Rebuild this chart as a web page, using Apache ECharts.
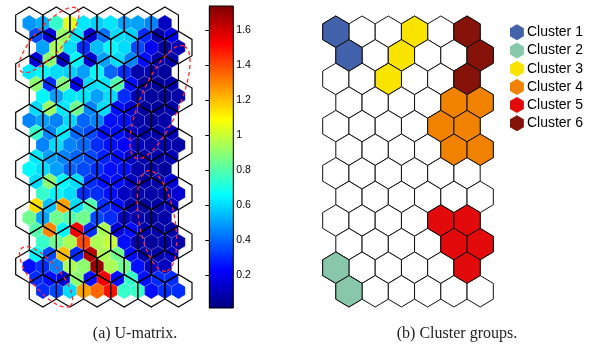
<!DOCTYPE html>
<html>
<head>
<meta charset="utf-8">
<script src="https://cdn.jsdelivr.net/npm/echarts@6/dist/echarts.min.js"></script>
<style>
  html, body { margin: 0; padding: 0; background: #fff; }
  #chart { width: 590px; height: 346px; }
</style>
</head>
<body>
<div id="chart"></div>
<script>
// U-matrix values, 23 rows x 11 cols (top row first)
const uRows = [
  [0.48, 0.52, 0.75, 1.05, 0.62, 0.58, 0.62, 0.50, 0.50, 0.45, 0.12],
  [0.35, 0.15, 0.92, 0.62, 0.15, 0.42, 0.60, 0.58, 0.30, 0.08, 0.18],
  [0.50, 0.95, 0.60, 0.30, 0.55, 0.65, 0.60, 0.35, 0.20, 0.06, 0.10],
  [0.15, 0.90, 0.12, 0.65, 0.15, 0.50, 0.60, 0.45, 0.25, 0.08, 0.08],
  [0.62, 0.65, 0.60, 0.58, 0.50, 0.65, 0.40, 0.30, 0.08, 0.08, 0.06],
  [0.90, 0.30, 0.88, 0.20, 0.60, 0.62, 0.80, 0.25, 0.06, 0.05, 0.08],
  [0.65, 0.50, 0.62, 0.62, 0.50, 0.60, 0.30, 0.10, 0.06, 0.06, 0.08],
  [0.60, 0.92, 0.62, 0.85, 0.45, 0.60, 0.25, 0.15, 0.06, 0.06, 0.08],
  [0.45, 0.50, 0.45, 0.60, 0.40, 0.45, 0.25, 0.25, 0.08, 0.06, 0.08],
  [0.75, 0.45, 0.62, 0.40, 0.35, 0.25, 0.25, 0.12, 0.08, 0.08, 0.10],
  [0.45, 0.60, 0.45, 0.40, 0.30, 0.25, 0.22, 0.12, 0.08, 0.10, 0.08],
  [0.62, 0.50, 0.45, 0.40, 0.35, 0.28, 0.25, 0.12, 0.08, 0.08, 0.10],
  [0.65, 0.60, 0.50, 0.40, 0.35, 0.30, 0.25, 0.25, 0.08, 0.08, 0.06],
  [0.60, 0.90, 0.65, 0.60, 0.30, 0.25, 0.25, 0.12, 0.08, 0.08, 0.15],
  [0.75, 0.65, 0.60, 0.30, 0.30, 0.25, 0.12, 0.08, 0.08, 0.08, 0.15],
  [1.15, 0.55, 1.25, 0.60, 0.80, 0.30, 0.25, 0.08, 0.06, 0.08, 0.12],
  [0.85, 0.50, 0.85, 0.80, 0.85, 0.35, 0.30, 0.12, 0.08, 0.06, 0.08],
  [0.80, 1.30, 0.65, 1.55, 0.30, 0.95, 0.15, 0.25, 0.08, 0.08, 0.08],
  [0.75, 0.85, 0.95, 1.40, 0.95, 1.00, 0.25, 0.08, 0.06, 0.08, 0.08],
  [0.65, 0.35, 1.20, 0.30, 1.65, 0.95, 0.85, 0.25, 0.08, 0.08, 0.12],
  [0.25, 0.30, 0.45, 0.95, 0.90, 1.70, 0.95, 0.85, 0.25, 0.12, 0.12],
  [0.30, 0.25, 0.15, 0.90, 0.25, 1.55, 0.25, 0.75, 0.25, 0.30, 0.30],
  [0.30, 0.35, 0.60, 1.25, 1.35, 1.50, 0.75, 0.75, 0.25, 0.30, 0.30]
];

const mapRows = 12;
const mapCols = 6;

const cbMin = 0.011;
const cbMax = 1.74;
const cbTicks = [0.2, 0.4, 0.6, 0.8, 1, 1.2, 1.4, 1.6];

const clusterNames = ["Cluster 1", "Cluster 2", "Cluster 3", "Cluster 4", "Cluster 5", "Cluster 6"];
const clusterColors = ["#4262AB", "#88C7AA", "#F9E400", "#F08200", "#E20A0B", "#86130A"];
// [row, col] of the map units in each cluster
const clusterUnits = [
  [[0, 0], [1, 0]],
  [[10, 0], [11, 0]],
  [[0, 3], [1, 2], [2, 2]],
  [[3, 4], [3, 5], [4, 4], [4, 5], [5, 4], [5, 5]],
  [[8, 4], [8, 5], [9, 4], [9, 5], [10, 5]],
  [[0, 5], [1, 5], [2, 5]]
];

// dashed ellipses on the U-matrix: [cx, cy, semi-major, semi-minor, angle deg]
const ellipses = [
  [0.73, 0.69, 1.55, 0.52, -48],
  [4.82, 3.24, 2.25, 0.72, -66.7],
  [4.71, 8.13, 1.88, 0.66, 80],
  [0.62, 10.43, 1.39, 0.52, 50]
];

const captions = ["(a) U-matrix.", "(b) Cluster groups."];

// MATLAB style jet colormap
function jet(v) {
  const t = Math.max(0, Math.min(1, (v - cbMin) / (cbMax - cbMin)));
  const c = (x) => Math.round(255 * Math.max(0, Math.min(1, 1.5 - Math.abs(4 * t - x))));
  return `rgb(${c(3)},${c(2)},${c(1)})`;
}
function jetAt(t) {
  return jet(cbMin + t * (cbMax - cbMin));
}

function hexPts(cx, cy, w, r) {
  return [
    [cx, cy - r], [cx + w / 2, cy - r / 2], [cx + w / 2, cy + r / 2],
    [cx, cy + r], [cx - w / 2, cy + r / 2], [cx - w / 2, cy - r / 2]
  ];
}

function unitPos(row, col) {
  return [col + (row % 2 ? 0.5 : 0), row];
}

function uPos(r, c) {
  const shift = r % 2 ? 0.25 : ((r / 2) % 2 ? 0.5 : 0);
  return [c * 0.5 + shift, r / 2];
}

const uData = [];
uRows.forEach((row, r) => row.forEach((v, c) => uData.push([...uPos(r, c), v])));

const allUnits = [];
for (let i = 0; i < mapRows; i++) {
  for (let j = 0; j < mapCols; j++) allUnits.push(unitPos(i, j));
}

const hexR = 2 / 3;

function hexRenderer(w, r, styleFn) {
  return (params, api) => {
    const pts = hexPts(api.value(0), api.value(1), w, r).map((p) => api.coord(p));
    return { type: "polygon", shape: { points: pts }, style: styleFn(api) };
  };
}

const chart = echarts.init(document.getElementById("chart"), null, { renderer: "canvas" });

const hidden = { show: false };
const axisOff = { axisLine: hidden, axisTick: hidden, axisLabel: hidden, splitLine: hidden };

const option = {
  animation: false,
  backgroundColor: "#fff",
  grid: [
    { left: 15.7, top: 7, width: 176.3, height: 300 },
    { left: 209.3, top: 6, width: 24, height: 302, show: true, borderColor: "#000", borderWidth: 1, z: 5 },
    { left: 322.7, top: 16, width: 170.6, height: 291 }
  ],
  xAxis: [
    { gridIndex: 0, type: "value", min: -0.5, max: mapCols, ...axisOff },
    { gridIndex: 1, type: "value", min: 0, max: 1, ...axisOff },
    { gridIndex: 2, type: "value", min: -0.5, max: mapCols, ...axisOff }
  ],
  yAxis: [
    { gridIndex: 0, type: "value", inverse: true, min: -hexR, max: mapRows - 1 + hexR, ...axisOff },
    {
      gridIndex: 1, type: "value", min: cbMin, max: cbMax, position: "right", z: 6,
      axisLine: { show: true, lineStyle: { color: "#000", width: 1 } },
      axisTick: { show: true, inside: true, length: 4, customValues: cbTicks, lineStyle: { color: "#000" } },
      axisLabel: {
        show: true, customValues: cbTicks, margin: 3, color: "#000",
        fontSize: 10.5, fontFamily: "Liberation Sans"
      },
      splitLine: hidden
    },
    { gridIndex: 2, type: "value", inverse: true, min: -hexR, max: mapRows - 1 + hexR, ...axisOff }
  ],
  legend: {
    orient: "vertical",
    left: 505,
    top: 19.3,
    itemWidth: 14,
    itemHeight: 16,
    itemGap: 2.2,
    icon: "path://M0,-1L0.866,-0.5L0.866,0.5L0,1L-0.866,0.5L-0.866,-0.5Z",
    data: clusterNames,
    selectedMode: false,
    textStyle: { color: "#000", fontSize: 14, fontFamily: "Liberation Sans", lineHeight: 16, padding: [0, 0, 0, -2] }
  },
  graphic: captions.map((text, i) => ({
    type: "text",
    x: i === 0 ? 135 : 457,
    y: 334,
    silent: true,
    style: {
      text, align: "center", verticalAlign: "middle",
      font: "16px 'Liberation Serif'", fill: "#222"
    }
  })),
  series: [
    {
      type: "custom", name: "umat", xAxisIndex: 0, yAxisIndex: 0, silent: true,
      data: uData,
      renderItem: hexRenderer(0.5, hexR / 2, (api) => ({
        fill: jet(api.value(2)), stroke: "rgba(255,255,255,0.22)", lineWidth: 0.6
      }))
    },
    {
      type: "custom", name: "grid", xAxisIndex: 0, yAxisIndex: 0, silent: true,
      data: allUnits,
      renderItem: hexRenderer(1, hexR, () => ({ fill: "none", stroke: "#000", lineWidth: 1.2 }))
    },
    {
      type: "custom", name: "ellipses", xAxisIndex: 0, yAxisIndex: 0, silent: true,
      data: ellipses,
      renderItem: (params, api) => {
        const c = api.coord([api.value(0), api.value(1)]);
        const k = api.size([1, 0])[0];
        const a = api.value(2) * k, b = api.value(3) * k;
        const ang = api.value(4) * Math.PI / 180;
        const pts = [];
        for (let s = 0; s < 90; s++) {
          const t = s / 90 * Math.PI * 2;
          pts.push([
            c[0] + a * Math.cos(t) * Math.cos(ang) - b * Math.sin(t) * Math.sin(ang),
            c[1] + a * Math.cos(t) * Math.sin(ang) + b * Math.sin(t) * Math.cos(ang)
          ]);
        }
        return {
          type: "polygon", shape: { points: pts },
          style: { fill: "none", stroke: "#FF2A2A", lineWidth: 1.3, lineDash: [4, 3] }
        };
      }
    },
    {
      type: "custom", name: "colorbar", xAxisIndex: 1, yAxisIndex: 1, silent: true, z: 1,
      data: [[0, cbMin, 1, cbMax]],
      renderItem: (params, api) => {
        const p0 = api.coord([api.value(0), api.value(1)]);
        const p1 = api.coord([api.value(2), api.value(3)]);
        const stops = [0, 0.125, 0.375, 0.625, 0.875, 1].map((o) => ({ offset: o, color: jetAt(o) }));
        return {
          type: "rect",
          shape: { x: p0[0], y: p1[1], width: p1[0] - p0[0], height: p0[1] - p1[1] },
          style: { fill: new echarts.graphic.LinearGradient(0, 1, 0, 0, stops) }
        };
      }
    },
    {
      type: "custom", name: "units", xAxisIndex: 2, yAxisIndex: 2, silent: true,
      data: allUnits,
      renderItem: hexRenderer(1, hexR, () => ({ fill: "#fff", stroke: "#111", lineWidth: 1 }))
    },
    ...clusterNames.map((name, i) => ({
      type: "custom", name, xAxisIndex: 2, yAxisIndex: 2, silent: true,
      itemStyle: { color: clusterColors[i] },
      data: clusterUnits[i].map(([r, c]) => unitPos(r, c)),
      renderItem: hexRenderer(1, hexR, (api) => ({ fill: api.visual("color"), stroke: "#111", lineWidth: 1 }))
    }))
  ]
};

chart.setOption(option);
</script>
</body>
</html>
